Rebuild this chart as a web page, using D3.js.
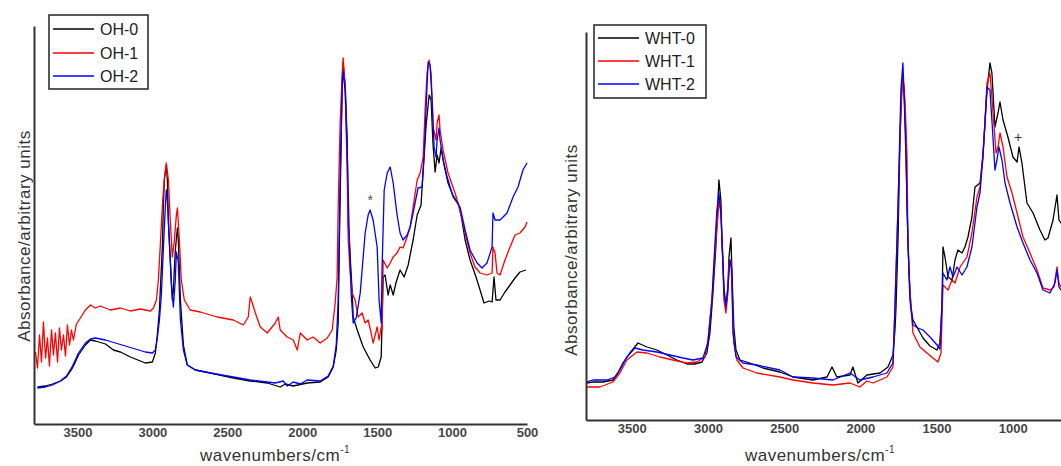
<!DOCTYPE html>
<html lang="en">
  <head>
    <meta charset="utf-8" />
    <title>FTIR spectra: OH and WHT samples</title>
    <script src="https://cdnjs.cloudflare.com/ajax/libs/d3/7.8.5/d3.min.js"></script>
    <style type="text/css">
      body {
        margin: 0;
        background: #fff;
      }

      svg {
        display: block;
        font-family: "Liberation Sans", Arial, sans-serif;
      }

      .series {
        fill: none;
        stroke-width: 1.3;
        stroke-linejoin: round;
      }

      .axis path.domain {
        stroke: #333;
        stroke-width: 2;
      }

      .axis text {
        font-family: "Liberation Sans", Arial, sans-serif;
        font-size: 13px;
        font-weight: bold;
        fill: #454545;
      }

      .axisTitle {
        font-size: 17px;
        fill: #333;
        letter-spacing: 0.5px;
      }

      .legendBox {
        fill: #fff;
        stroke: #222;
        stroke-width: 1.5;
      }

      .legendText {
        font-size: 16px;
        fill: #222;
      }
    </style>
  </head>

  <body>
    <svg id="chart" width="1061" height="466"></svg>

    <script>
      // Tick labels and series names.
      const tickValues = [3500, 3000, 2500, 2000, 1500, 1000, 500];
      const ohNames = ['OH-0', 'OH-1', 'OH-2'];
      const whtNames = ['WHT-0', 'WHT-1', 'WHT-2'];
      const seriesColors = ['#000000', '#ff0000', '#0000ff'];

      // Spectra: [wavenumber (cm-1), absorbance (a.u.)].
      const oh0 = [
        [3767, 0.37], [3713, 0.38], [3667, 0.40], [3613, 0.43], [3573, 0.47], [3533, 0.56],
        [3493, 0.69], [3447, 0.79], [3413, 0.84], [3380, 0.83], [3313, 0.80], [3260, 0.74],
        [3213, 0.72], [3147, 0.67], [3080, 0.63], [3047, 0.61], [3000, 0.62], [2980, 0.71],
        [2967, 0.89], [2953, 1.14], [2947, 1.34], [2933, 1.79], [2927, 2.17], [2920, 2.44],
        [2907, 2.59], [2900, 2.44], [2893, 2.01], [2880, 1.62], [2867, 1.24], [2860, 1.34],
        [2847, 1.74], [2833, 1.96], [2827, 1.84], [2813, 1.24], [2793, 0.79], [2767, 0.59],
        [2713, 0.54], [2613, 0.51], [2460, 0.46], [2347, 0.43], [2233, 0.41], [2147, 0.37],
        [2113, 0.40], [2060, 0.38], [1967, 0.41], [1880, 0.42], [1827, 0.47], [1793, 0.57],
        [1773, 0.74], [1760, 1.01], [1753, 1.74], [1740, 2.84], [1733, 3.44], [1727, 3.61],
        [1713, 3.39], [1700, 2.84], [1693, 2.01], [1680, 1.67], [1667, 1.34], [1660, 1.07],
        [1633, 0.94], [1593, 0.77], [1547, 0.64], [1513, 0.56], [1493, 0.57], [1473, 0.67],
        [1460, 1.47], [1447, 1.49], [1427, 1.29], [1413, 1.39], [1393, 1.29], [1373, 1.42],
        [1347, 1.54], [1320, 1.47], [1293, 1.59], [1260, 1.84], [1233, 2.09], [1207, 2.19],
        [1193, 2.54], [1173, 2.99], [1153, 3.29], [1140, 3.24], [1127, 2.79], [1113, 2.52],
        [1100, 2.69], [1087, 2.61], [1073, 2.76], [1053, 2.59], [1027, 2.41], [993, 2.28],
        [960, 2.21], [940, 2.09], [913, 1.84], [880, 1.64], [840, 1.47], [807, 1.31],
        [787, 1.21], [753, 1.23], [733, 1.22], [720, 1.47], [707, 1.24], [680, 1.24],
        [647, 1.32], [613, 1.39], [580, 1.46], [547, 1.52], [507, 1.54]
      ];

      const oh1 = [
        [3780, 0.72], [3767, 0.56], [3753, 0.89], [3740, 0.62], [3727, 1.02], [3713, 0.66],
        [3700, 0.86], [3687, 0.58], [3673, 0.94], [3660, 0.69], [3647, 0.91], [3633, 0.62],
        [3620, 0.96], [3607, 0.74], [3593, 0.89], [3580, 0.68], [3567, 0.99], [3553, 0.79],
        [3540, 0.94], [3527, 0.84], [3507, 1.00], [3480, 1.06], [3447, 1.14], [3413, 1.19],
        [3380, 1.16], [3347, 1.18], [3280, 1.14], [3213, 1.16], [3147, 1.13], [3080, 1.15],
        [3013, 1.13], [2993, 1.16], [2973, 1.24], [2960, 1.44], [2947, 1.79], [2933, 2.19],
        [2920, 2.46], [2907, 2.61], [2893, 2.44], [2880, 2.02], [2867, 1.67], [2853, 1.84],
        [2840, 2.09], [2833, 2.16], [2820, 1.84], [2807, 1.44], [2787, 1.24], [2747, 1.14],
        [2680, 1.12], [2613, 1.09], [2567, 1.07], [2460, 1.04], [2393, 0.99], [2360, 1.07],
        [2347, 1.27], [2333, 1.21], [2313, 1.11], [2280, 0.97], [2233, 0.91], [2180, 1.01],
        [2160, 1.07], [2147, 0.94], [2100, 0.87], [2060, 0.84], [2033, 0.74], [2013, 0.91],
        [1967, 0.84], [1927, 0.87], [1880, 0.81], [1833, 0.86], [1800, 0.94], [1780, 1.21],
        [1767, 1.47], [1760, 2.17], [1747, 3.01], [1733, 3.51], [1727, 3.66], [1713, 3.34],
        [1700, 2.51], [1693, 1.84], [1680, 1.51], [1667, 1.31], [1647, 1.24], [1627, 1.07],
        [1600, 1.11], [1580, 1.01], [1560, 1.04], [1540, 0.91], [1527, 0.81], [1513, 0.89],
        [1500, 0.97], [1487, 0.84], [1473, 0.97], [1467, 0.94], [1460, 1.64], [1433, 1.56],
        [1413, 1.61], [1393, 1.67], [1367, 1.71], [1347, 1.77], [1327, 1.76], [1300, 1.87],
        [1280, 1.97], [1260, 2.17], [1233, 2.44], [1213, 2.51], [1193, 2.67], [1180, 3.14],
        [1167, 3.51], [1153, 3.64], [1140, 3.51], [1127, 2.97], [1107, 2.84], [1100, 3.01],
        [1087, 3.09], [1080, 2.94], [1060, 2.74], [1027, 2.51], [980, 2.31], [947, 2.14],
        [913, 1.91], [880, 1.71], [847, 1.57], [813, 1.51], [767, 1.49], [733, 1.51],
        [727, 1.77], [713, 1.71], [700, 1.51], [680, 1.49], [647, 1.64], [613, 1.77],
        [580, 1.89], [547, 1.91], [513, 1.97], [500, 2.02]
      ];

      const oh2 = [
        [3767, 0.36], [3713, 0.37], [3667, 0.39], [3613, 0.43], [3573, 0.48], [3533, 0.58],
        [3493, 0.71], [3447, 0.81], [3413, 0.85], [3380, 0.86], [3313, 0.84], [3247, 0.81],
        [3180, 0.78], [3113, 0.75], [3047, 0.72], [3000, 0.71], [2980, 0.74], [2967, 0.86],
        [2953, 1.04], [2940, 1.29], [2927, 1.74], [2913, 2.19], [2907, 2.34], [2900, 2.24],
        [2887, 1.84], [2873, 1.39], [2860, 1.17], [2847, 1.44], [2840, 1.72], [2827, 1.62],
        [2813, 1.04], [2793, 0.74], [2767, 0.59], [2713, 0.54], [2613, 0.51], [2460, 0.47],
        [2347, 0.44], [2233, 0.42], [2180, 0.41], [2127, 0.43], [2100, 0.38], [2060, 0.42],
        [2013, 0.40], [1967, 0.44], [1880, 0.43], [1827, 0.48], [1793, 0.58], [1773, 0.79],
        [1760, 1.24], [1747, 2.44], [1733, 3.39], [1727, 3.52], [1713, 3.32], [1700, 2.74],
        [1687, 1.94], [1673, 1.29], [1660, 1.01], [1640, 1.06], [1613, 1.31], [1580, 1.91],
        [1560, 2.09], [1547, 2.14], [1527, 2.04], [1500, 1.77], [1487, 1.24], [1473, 1.01],
        [1467, 1.57], [1453, 2.34], [1433, 2.51], [1413, 2.57], [1393, 2.41], [1367, 2.09],
        [1347, 1.91], [1327, 1.84], [1300, 1.89], [1280, 1.97], [1260, 2.11], [1227, 2.36],
        [1200, 2.37], [1187, 2.67], [1173, 3.17], [1160, 3.62], [1147, 3.59], [1133, 3.24],
        [1120, 2.77], [1107, 2.67], [1100, 2.84], [1087, 2.96], [1080, 2.84], [1060, 2.64],
        [1033, 2.47], [993, 2.27], [947, 2.17], [913, 1.94], [880, 1.74], [833, 1.61],
        [800, 1.56], [767, 1.61], [733, 1.77], [727, 2.11], [713, 2.04], [680, 2.04],
        [633, 2.11], [593, 2.27], [560, 2.37], [527, 2.54], [500, 2.61]
      ];

      const wht0 = [
        [3800, 0.37], [3755, 0.38], [3689, 0.38], [3624, 0.40], [3591, 0.47], [3558, 0.57],
        [3512, 0.67], [3459, 0.77], [3400, 0.73], [3335, 0.70], [3269, 0.65], [3204, 0.60],
        [3138, 0.56], [3085, 0.56], [3039, 0.58], [3007, 0.67], [2987, 0.87], [2967, 1.27],
        [2948, 1.73], [2935, 2.17], [2928, 2.40], [2915, 2.20], [2908, 1.77], [2895, 1.33],
        [2882, 1.13], [2869, 1.33], [2862, 1.63], [2849, 1.82], [2843, 1.50], [2830, 0.93],
        [2816, 0.70], [2790, 0.60], [2725, 0.57], [2639, 0.52], [2528, 0.48], [2442, 0.43],
        [2311, 0.40], [2219, 0.43], [2186, 0.53], [2154, 0.43], [2068, 0.45], [2049, 0.53],
        [2016, 0.37], [1957, 0.45], [1871, 0.47], [1819, 0.53], [1786, 0.65], [1773, 0.90],
        [1766, 1.13], [1753, 1.80], [1740, 2.80], [1727, 3.37], [1721, 3.45], [1714, 3.30],
        [1701, 2.80], [1694, 2.13], [1681, 1.47], [1668, 1.13], [1655, 1.00], [1629, 0.93],
        [1589, 0.82], [1543, 0.74], [1497, 0.70], [1478, 0.77], [1465, 1.13], [1458, 1.73],
        [1445, 1.63], [1425, 1.43], [1399, 1.40], [1379, 1.60], [1360, 1.70], [1333, 1.67],
        [1314, 1.73], [1294, 1.83], [1268, 2.03], [1248, 2.33], [1215, 2.37], [1196, 2.63],
        [1169, 3.30], [1150, 3.57], [1137, 3.47], [1117, 2.93], [1097, 3.07], [1084, 3.18],
        [1064, 3.00], [1032, 2.83], [999, 2.63], [972, 2.58], [959, 2.73], [940, 2.57],
        [907, 2.17], [867, 2.07], [822, 1.90], [789, 1.80], [769, 1.82], [736, 2.00],
        [710, 2.25], [697, 2.00], [684, 1.97], [657, 1.95]
      ];

      const wht1 = [
        [3800, 0.33], [3709, 0.33], [3624, 0.38], [3578, 0.47], [3532, 0.60], [3466, 0.68],
        [3400, 0.67], [3315, 0.63], [3230, 0.60], [3138, 0.57], [3072, 0.58], [3020, 0.63],
        [3000, 0.80], [2974, 1.20], [2954, 1.67], [2935, 2.03], [2928, 2.20], [2915, 2.07],
        [2902, 1.60], [2895, 1.20], [2882, 1.07], [2869, 1.27], [2862, 1.57], [2849, 1.60],
        [2843, 1.33], [2830, 0.77], [2810, 0.60], [2770, 0.52], [2679, 0.47], [2528, 0.43],
        [2442, 0.40], [2311, 0.37], [2180, 0.35], [2068, 0.37], [2003, 0.33], [1957, 0.39],
        [1917, 0.37], [1826, 0.43], [1786, 0.53], [1773, 1.13], [1753, 2.13], [1734, 3.13],
        [1721, 3.43], [1707, 3.20], [1694, 2.63], [1688, 1.80], [1675, 1.30], [1655, 0.87],
        [1609, 0.73], [1563, 0.67], [1524, 0.62], [1491, 0.58], [1471, 0.67], [1458, 1.35],
        [1425, 1.30], [1399, 1.40], [1379, 1.37], [1346, 1.53], [1301, 1.63], [1268, 1.87],
        [1235, 2.23], [1215, 2.33], [1189, 2.80], [1169, 3.37], [1150, 3.47], [1137, 3.23],
        [1110, 2.67], [1097, 2.73], [1084, 2.87], [1064, 2.73], [1038, 2.43], [1005, 2.27],
        [972, 2.07], [933, 1.83], [887, 1.67], [841, 1.50], [802, 1.32], [756, 1.30],
        [730, 1.33], [710, 1.53], [697, 1.37], [684, 1.33], [657, 1.30]
      ];

      const wht2 = [
        [3800, 0.38], [3755, 0.40], [3663, 0.40], [3610, 0.43], [3578, 0.50], [3532, 0.63],
        [3479, 0.72], [3427, 0.70], [3335, 0.68], [3249, 0.65], [3164, 0.62], [3099, 0.60],
        [3033, 0.62], [3000, 0.77], [2974, 1.20], [2954, 1.77], [2941, 2.10], [2928, 2.27],
        [2915, 2.07], [2902, 1.60], [2895, 1.27], [2882, 1.13], [2869, 1.33], [2856, 1.60],
        [2843, 1.50], [2836, 0.87], [2816, 0.63], [2770, 0.57], [2679, 0.55], [2528, 0.50],
        [2442, 0.43], [2311, 0.42], [2180, 0.40], [2068, 0.47], [2003, 0.40], [1917, 0.43],
        [1826, 0.47], [1786, 0.57], [1773, 1.13], [1753, 2.13], [1734, 3.30], [1721, 3.57],
        [1714, 3.30], [1701, 2.63], [1688, 1.80], [1675, 1.20], [1655, 0.95], [1622, 0.92],
        [1589, 0.90], [1543, 0.83], [1497, 0.75], [1478, 0.71], [1465, 1.13], [1458, 1.47],
        [1432, 1.40], [1412, 1.53], [1392, 1.43], [1366, 1.53], [1333, 1.45], [1301, 1.53],
        [1268, 1.73], [1235, 2.13], [1215, 2.27], [1196, 2.63], [1169, 3.33], [1150, 3.30],
        [1137, 3.00], [1117, 2.50], [1104, 2.60], [1091, 2.73], [1071, 2.60], [1051, 2.37],
        [1018, 2.17], [972, 1.93], [933, 1.77], [887, 1.60], [841, 1.47], [802, 1.30],
        [756, 1.27], [723, 1.37], [710, 1.50], [697, 1.33], [684, 1.30], [657, 1.28]
      ];

      // Band markers drawn on the spectra.
      const ohMarks = [{ label: '*', wn: 1547, a: 2.27 }];
      const whtMarks = [{ label: '+', wn: 966, a: 2.83 }];

      const svg = d3.select('#chart');
      const chartWidth = +svg.attr('width');

      // Panel layouts (pixels).
      const panels = [
        {
          series: [oh0, oh1, oh2], names: ohNames, marks: ohMarks,
          xDomain: [3790, 500], xRange: [34, 527],
          yDomain: [0, 3.98], yRange: [424, 26],
          legend: { x: 49, y: 15, w: 99, h: 74, rows: [29, 53, 76] },
          yTitle: { x: 30, y: 236 }, xTitle: { x: 275, y: 461 }
        },
        {
          series: [wht0, wht1, wht2], names: whtNames, marks: whtMarks,
          xDomain: [3800, 500], xRange: [586, 1089],
          yDomain: [0, 3.88], yRange: [420, 32],
          legend: { x: 594, y: 25, w: 112, h: 73, rows: [38, 61, 84] },
          yTitle: { x: 577, y: 250 }, xTitle: { x: 820, y: 461 }
        }
      ];

      panels.forEach(drawPanel);

      function drawPanel (p) {
        const g = svg.append('g');
        const x = d3.scaleLinear().domain(p.xDomain).range(p.xRange);
        const y = d3.scaleLinear().domain(p.yDomain).range(p.yRange);

        const line = d3.line()
          .x(d => x(d[0]))
          .y(d => y(d[1]));

        // Spectra: black first, blue on top.
        p.series.forEach((s, i) => {
          g.append('path')
            .datum(s)
            .attr('class', 'series')
            .attr('stroke', seriesColors[i])
            .attr('d', line);
        });

        // Only the tick labels that fit inside the picture (right panel is cut off).
        const ticks = tickValues.filter(t => x(t) + 16 <= chartWidth);

        g.append('g')
          .attr('class', 'axis')
          .attr('transform', `translate(0,${p.yRange[0]})`)
          .call(d3.axisBottom(x).tickValues(ticks).tickFormat(d3.format('d')).tickSize(0).tickPadding(4))
          .call(a => a.selectAll('.tick line').remove());

        g.append('g')
          .attr('class', 'axis')
          .attr('transform', `translate(${p.xRange[0]},0)`)
          .call(d3.axisLeft(y).tickValues([]).tickSizeOuter(0));

        // Axis titles.
        g.append('text')
          .attr('class', 'axisTitle')
          .attr('text-anchor', 'middle')
          .attr('transform', `translate(${p.yTitle.x},${p.yTitle.y}) rotate(-90)`)
          .text('Absorbance/arbitrary units');

        const xt = g.append('text')
          .attr('class', 'axisTitle')
          .attr('text-anchor', 'middle')
          .attr('x', p.xTitle.x)
          .attr('y', p.xTitle.y);
        xt.append('tspan').text('wavenumbers/cm');
        xt.append('tspan')
          .attr('dy', -8)
          .attr('font-size', 10)
          .text('-1');

        // Band markers.
        g.selectAll('.mark')
          .data(p.marks)
          .join('text')
          .attr('class', 'mark')
          .attr('x', d => x(d.wn))
          .attr('y', d => y(d.a))
          .attr('dy', d => d.label === '*' ? '0.55em' : '0.35em')
          .attr('text-anchor', 'middle')
          .attr('font-size', 14)
          .attr('fill', d => d.label === '*' ? '#555' : '#333')
          .text(d => d.label);

        // Legend.
        const lg = p.legend;
        g.append('rect')
          .attr('class', 'legendBox')
          .attr('x', lg.x)
          .attr('y', lg.y)
          .attr('width', lg.w)
          .attr('height', lg.h);

        p.names.forEach((name, i) => {
          g.append('line')
            .attr('x1', lg.x + 4)
            .attr('x2', lg.x + 45)
            .attr('y1', lg.rows[i])
            .attr('y2', lg.rows[i])
            .attr('stroke', seriesColors[i])
            .attr('stroke-width', 1.5);
          g.append('text')
            .attr('class', 'legendText')
            .attr('x', lg.x + 51)
            .attr('y', lg.rows[i] + 6)
            .text(name);
        });
      }
    </script>
  </body>
</html>
